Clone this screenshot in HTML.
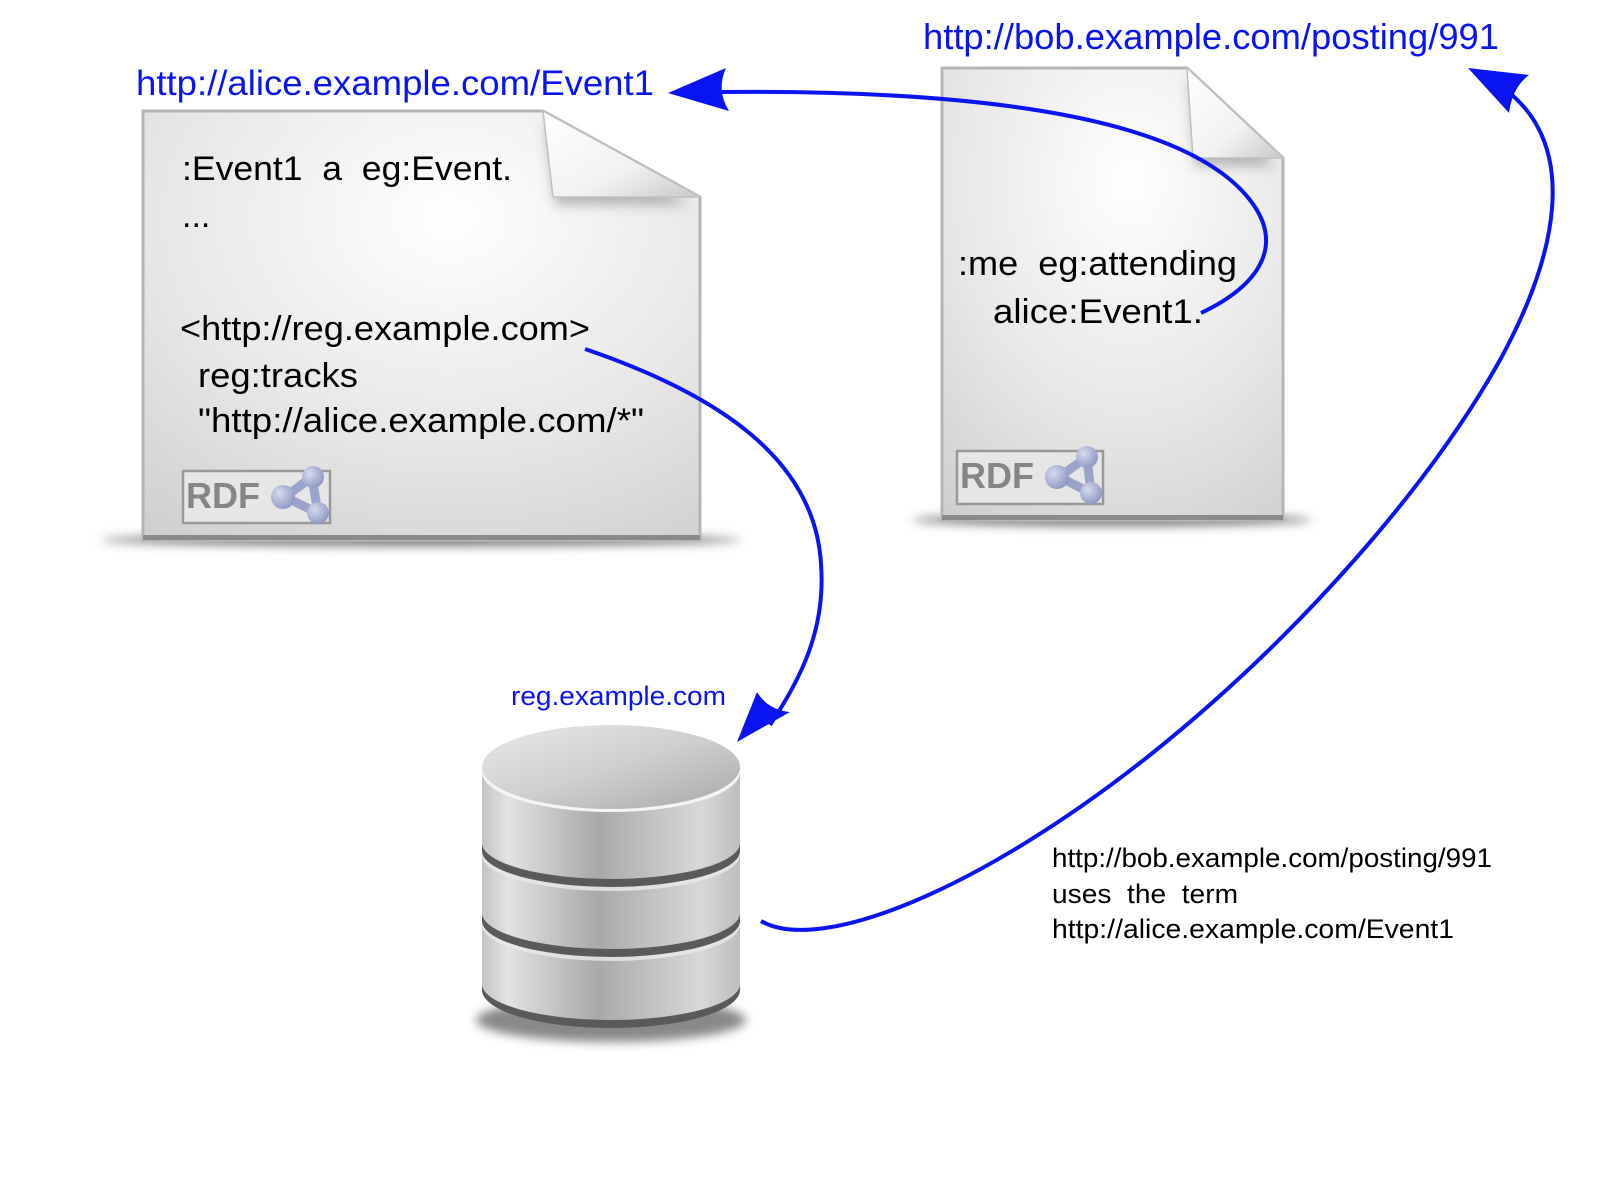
<!DOCTYPE html>
<html><head><meta charset="utf-8"><style>
html,body{margin:0;padding:0;background:#fff;width:1600px;height:1200px;overflow:hidden}
svg{display:block}
text{font-family:"Liberation Sans",Arial,sans-serif;white-space:pre}
</style></head><body>
<svg width="1600" height="1200" viewBox="0 0 1600 1200" xmlns="http://www.w3.org/2000/svg">
<defs>
<radialGradient id="pg" cx="0.55" cy="0.25" r="0.9">
<stop offset="0" stop-color="#ffffff"/><stop offset="0.6" stop-color="#e6e6e6"/><stop offset="1" stop-color="#cfcfcf"/>
</radialGradient>
<linearGradient id="flap" x1="0" y1="0" x2="1" y2="1">
<stop offset="0" stop-color="#ffffff"/><stop offset="0.6" stop-color="#f2f2f2"/><stop offset="1" stop-color="#c8c8c8"/>
</linearGradient>
<linearGradient id="cyl" x1="0" y1="0" x2="1" y2="0">
<stop offset="0" stop-color="#c4c4c4"/><stop offset="0.1" stop-color="#e2e2e2"/><stop offset="0.45" stop-color="#a9a9a9"/><stop offset="0.85" stop-color="#d8d8d8"/><stop offset="1" stop-color="#bdbdbd"/>
</linearGradient>
<linearGradient id="top" x1="0" y1="0" x2="1" y2="1">
<stop offset="0" stop-color="#e8e8e8"/><stop offset="0.5" stop-color="#cfcfcf"/><stop offset="1" stop-color="#a8a8a8"/>
</linearGradient>
<filter id="blur" x="-20%" y="-200%" width="140%" height="500%"><feGaussianBlur stdDeviation="5"/></filter>
<filter id="sblur" x="-50%" y="-50%" width="200%" height="200%"><feGaussianBlur stdDeviation="6"/></filter>
<radialGradient id="ball" cx="0.35" cy="0.35" r="0.7"><stop offset="0" stop-color="#d6dbef"/><stop offset="1" stop-color="#8d97c4"/></radialGradient>
</defs>

<!-- left doc -->
<ellipse cx="421" cy="540" rx="320" ry="6" fill="#777" filter="url(#blur)"/>
<path d="M143,111 L543,111 L700,197 L700,540 L143,540 Z" fill="url(#pg)" stroke="#b5b5b5" stroke-width="3"/>
<path d="M545,120 L555,205 L690,205 Z" fill="#777" opacity="0.5" filter="url(#sblur)"/>
<path d="M543,111 L553,197 L700,197 Z" fill="url(#flap)" stroke="#c0c0c0" stroke-width="1.5"/>
<rect x="143" y="535" width="557" height="5" fill="#8a8a8a"/>
<g font-size="34" fill="#000">
<text x="182" y="180" textLength="330" lengthAdjust="spacingAndGlyphs">:Event1  a  eg:Event.</text>
<text x="182" y="227">...</text>
<text x="180" y="340" textLength="410" lengthAdjust="spacingAndGlyphs">&lt;http://reg.example.com&gt;</text>
<text x="198" y="387" textLength="160" lengthAdjust="spacingAndGlyphs">reg:tracks</text>
<text x="198" y="432" textLength="446" lengthAdjust="spacingAndGlyphs">"http://alice.example.com/*"</text>
</g>
<rect x="183" y="471" width="147" height="52" fill="#e6e6e6" stroke="#999" stroke-width="2.5"/>
<text x="186" y="508" font-size="36" font-weight="bold" fill="#858585">RDF</text>
<g stroke="#9aa3cc" stroke-width="9" fill="none"><path d="M285,497 L312,477 L318,513 Z"/></g>
<circle cx="283" cy="497" r="12" fill="url(#ball)"/><circle cx="313" cy="477" r="11" fill="url(#ball)"/><circle cx="318" cy="513" r="11" fill="url(#ball)"/>

<!-- right doc -->
<ellipse cx="1112" cy="520" rx="200" ry="6" fill="#777" filter="url(#blur)"/>
<path d="M942,68 L1187,68 L1283,158 L1283,520 L942,520 Z" fill="url(#pg)" stroke="#b5b5b5" stroke-width="3"/>
<path d="M1189,76 L1195,166 L1275,166 Z" fill="#777" opacity="0.5" filter="url(#sblur)"/>
<path d="M1187,68 L1193,158 L1283,158 Z" fill="url(#flap)" stroke="#c0c0c0" stroke-width="1.5"/>
<rect x="942" y="515" width="341" height="5" fill="#8a8a8a"/>
<g font-size="34" fill="#000">
<text x="958" y="275" textLength="279" lengthAdjust="spacingAndGlyphs">:me  eg:attending</text>
<text x="993" y="323" textLength="210" lengthAdjust="spacingAndGlyphs">alice:Event1.</text>
</g>
<rect x="957" y="451" width="146" height="53" fill="#e6e6e6" stroke="#999" stroke-width="2.5"/>
<text x="960" y="488" font-size="36" font-weight="bold" fill="#858585">RDF</text>
<g stroke="#9aa3cc" stroke-width="9" fill="none"><path d="M1059,477 L1087,457 L1091,493 Z"/></g>
<circle cx="1057" cy="477" r="12" fill="url(#ball)"/><circle cx="1087" cy="457" r="11" fill="url(#ball)"/><circle cx="1091" cy="493" r="11" fill="url(#ball)"/>

<!-- labels -->
<text x="136" y="95" font-size="35" fill="#0a14f0" textLength="518" lengthAdjust="spacingAndGlyphs">http://alice.example.com/Event1</text>
<text x="923" y="49" font-size="36" fill="#0a14f0" textLength="576" lengthAdjust="spacingAndGlyphs">http://bob.example.com/posting/991</text>
<text x="511" y="705" font-size="27" fill="#0a14f0" textLength="215" lengthAdjust="spacingAndGlyphs">reg.example.com</text>
<g font-size="27" fill="#000">
<text x="1052" y="867" textLength="440" lengthAdjust="spacingAndGlyphs">http://bob.example.com/posting/991</text>
<text x="1052" y="903" textLength="186" lengthAdjust="spacingAndGlyphs">uses  the  term</text>
<text x="1052" y="938" textLength="402" lengthAdjust="spacingAndGlyphs">http://alice.example.com/Event1</text>
</g>

<!-- cylinder -->
<ellipse cx="611" cy="1020" rx="135" ry="22" fill="#888" filter="url(#blur)"/>
<path d="M482,767 L482,990 A129,38 0 0 0 740,990 L740,767 Z" fill="#5a5a5a"/>
<path d="M482,767 L482,984 A129,36 0 0 0 740,984 L740,767 Z" fill="url(#cyl)"/>
<path d="M482,843 A129,36 0 0 0 740,843 L740,851 A129,36 0 0 1 482,851 Z" fill="#5a5a5a"/>
<path d="M482,851 A129,36 0 0 0 740,851 L740,855 A129,36 0 0 1 482,855 Z" fill="#eaeaea" opacity="0.8"/>
<path d="M482,913 A129,36 0 0 0 740,913 L740,921 A129,36 0 0 1 482,921 Z" fill="#5a5a5a"/>
<path d="M482,921 A129,36 0 0 0 740,921 L740,925 A129,36 0 0 1 482,925 Z" fill="#eaeaea" opacity="0.8"/>
<path d="M482,767 A129,38 0 0 0 740,767 L740,772 A129,40 0 0 1 482,772 Z" fill="#f5f5f5"/>
<ellipse cx="611" cy="767" rx="129" ry="42" fill="url(#top)"/>

<!-- arrows -->
<g fill="none" stroke="#0a14f0" stroke-width="4">
<path d="M585,349 C720,395 815,460 821,564 C826,630 800,680 770,725"/>
<path d="M1201,313 C1260,285 1285,245 1250,200 C1180,110 950,90 722,92"/>
<path d="M761,921 C820,955 980,890 1150,755 C1300,635 1430,485 1500,360 C1560,250 1575,150 1512,95"/>
</g>
<g fill="#0a14f0">
<path d="M668,93 L726,68 Q716,90 729,111 Z"/>
<path d="M737,742 L757,692 Q768,710 790,712 Z"/>
<path d="M1468,68 L1529,75 Q1512,88 1509,113 Z"/>
</g>
</svg>
</body></html>
